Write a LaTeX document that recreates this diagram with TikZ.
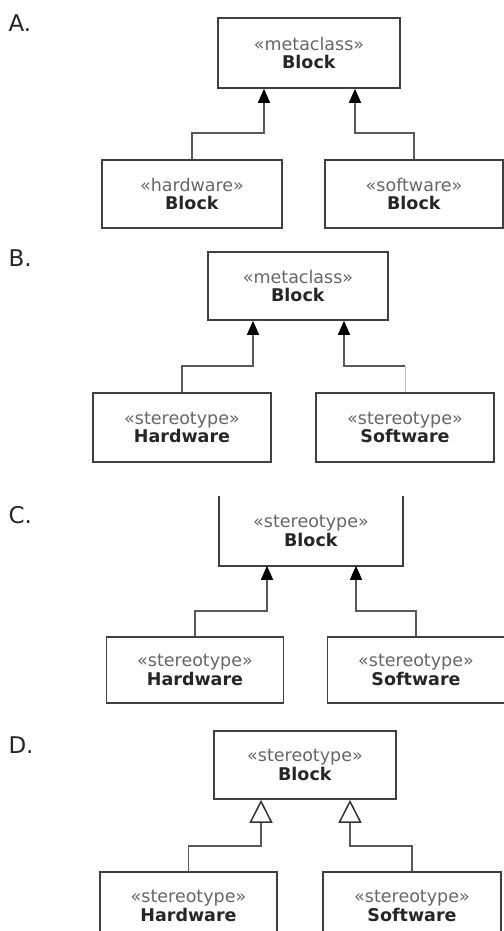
\documentclass[tikz,border=0pt]{standalone}
\usepackage{fontspec}
\setmainfont{DejaVu Sans}
\usetikzlibrary{arrows.meta}
\tikzset{
  blockbox/.style={draw=black!75, line width=1.6pt, minimum width=180pt,
    minimum height=68pt, align=center, inner sep=0pt,
    font=\fontsize{17.5}{18.5}\selectfont, text=black!85},
  boxline/.style={draw=black!75, line width=1.6pt},
  gen/.style={draw=black!65, line width=1.5pt,
    -{Triangle[length=14pt,width=12pt,color=black]}},
  hollow/.style={draw=black!65, line width=1.5pt,
    -{Triangle[open,length=23pt,width=23pt,fill=white,color=black!80]}},
  faint/.style={draw=black!25, line width=0.8pt},
}
\newcommand{\stname}[2]{{\color{black!60}«#1»}\\\textbf{#2}}
\begin{document}
\begin{tikzpicture}[x=1pt,y=-1pt]
  \useasboundingbox (0,0) rectangle (503,931);
  \foreach \p/\y in {A/23, B/258, C/515, D/745}
    \node[anchor=west, font=\fontsize{23}{23}\selectfont, text=black!85] (lbl\p) at (5,\y) {\p.};

  % A
  \node[blockbox, minimum width=182pt, minimum height=70pt] (blkA) at (309,53) {\stname{metaclass}{Block}};
  \node[blockbox] (hwA) at (192,194) {\stname{hardware}{Block}};
  \node[blockbox, minimum width=178pt] (swA) at (414,194) {\stname{software}{Block}};
  \coordinate (aAl) at ([xshift=-45pt]blkA.south);
  \coordinate (aAr) at ([xshift=46pt]blkA.south);
  \draw[gen] (hwA.north) -- ++(0,-26) -| (aAl);
  \draw[gen] (swA.north) -- ++(0,-26) -| (aAr);

  % B
  \node[blockbox] (blkB) at (298,286) {\stname{metaclass}{Block}};
  \node[blockbox, minimum width=178pt, minimum height=69pt] (hwB) at (182,427.5) {\stname{stereotype}{Hardware}};
  \node[blockbox, minimum width=178pt, minimum height=69pt] (swB) at (405,427.5) {\stname{stereotype}{Software}};
  \coordinate (aBl) at ([xshift=-45pt]blkB.south);
  \coordinate (aBr) at ([xshift=46pt]blkB.south);
  \draw[gen] (hwB.north) -- ++(0,-26) -| (aBl);
  \draw[faint] (swB.north) -- ++(0,-26) coordinate (kB);
  \draw[gen] (kB) -| (aBr);

  % C
  \node[blockbox, draw=none, minimum width=182pt] (blkC) at (311,531) {\stname{stereotype}{Block}};
  \draw[boxline] (blkC.north west) |- (blkC.south east) -- (blkC.north east);
  \node[blockbox, minimum width=177pt, minimum height=66pt] (hwC) at (195,670) {\stname{stereotype}{Hardware}};
  \node[blockbox, minimum width=177pt, minimum height=66pt] (swC) at (416,670) {\stname{stereotype}{Software}};
  \coordinate (aCl) at ([xshift=-44pt]blkC.south);
  \coordinate (aCr) at ([xshift=45pt]blkC.south);
  \draw[gen] (hwC.north) -- ++(0,-25) -| (aCl);
  \draw[gen] (swC.north) -- ++(0,-25) -| (aCr);

  % D
  \node[blockbox, minimum width=182pt] (blkD) at (305,765) {\stname{stereotype}{Block}};
  \node[blockbox, minimum width=177pt] (hwD) at (188.5,906) {\stname{stereotype}{Hardware}};
  \node[blockbox, minimum width=178pt] (swD) at (412,906) {\stname{stereotype}{Software}};
  \coordinate (aDl) at ([xshift=-44pt]blkD.south);
  \coordinate (aDr) at ([xshift=45pt]blkD.south);
  \draw[hollow] (hwD.north) -- ++(0,-25) -| (aDl);
  \draw[hollow] (swD.north) -- ++(0,-25) -| (aDr);
\end{tikzpicture}
\end{document}
